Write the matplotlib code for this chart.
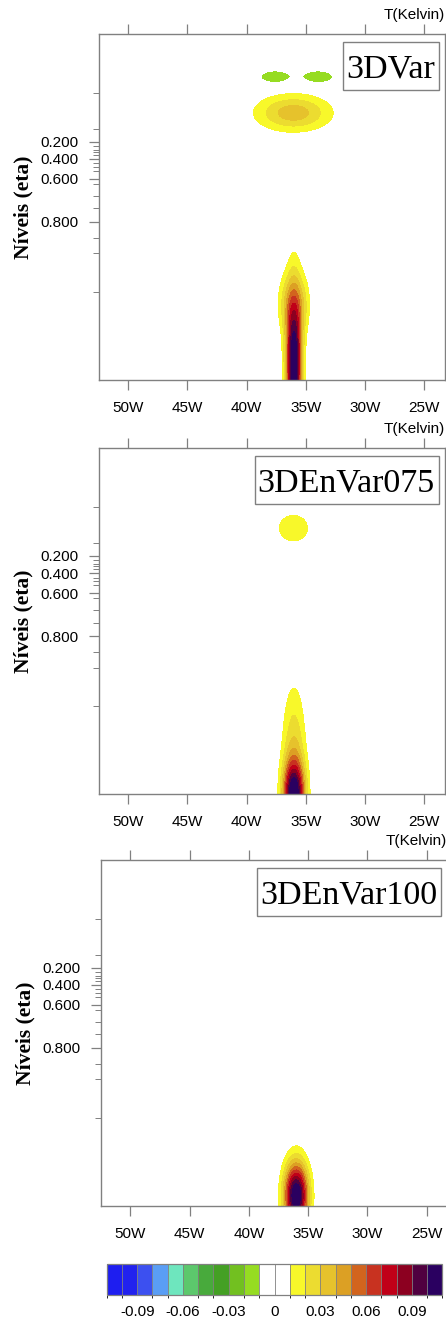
import numpy as np
import matplotlib
matplotlib.use('Agg')
import matplotlib.pyplot as plt
from matplotlib.colors import ListedColormap, BoundaryNorm
from matplotlib.cm import ScalarMappable
from matplotlib.patches import Rectangle
from matplotlib.transforms import IdentityTransform

plt.rcParams['font.family'] = ['Liberation Sans', 'DejaVu Sans']

# colour table, one colour per interval of 0.01
colors = ['#1e1ef0', '#2222ee', '#3c50f0', '#5a9ef5', '#6ee6be', '#5cc86c',
          '#48aa3c', '#44a024', '#72c020', '#96dc22', '#ffffff', '#ffffff',
          '#f8f82a', '#ecdc30', '#e6c22c', '#dca024', '#d2641e', '#c83220',
          '#c00018', '#8c0020', '#500040', '#2a0060']
levels = [-1.0] + list(np.round(np.arange(-0.10, 0.105, 0.01), 2)) + [1.0]
cbar_ticks = [-0.09, -0.06, -0.03, 0.0, 0.03, 0.06, 0.09]
cbar_labels = ['-0.09', '-0.06', '-0.03', '0', '0.03', '0.06', '0.09']

lon_ticks = [-50, -45, -40, -35, -30, -25]
lon_labels = ['50W', '45W', '40W', '35W', '30W', '25W']
eta_pos = [0.689, 0.639, 0.581, 0.457]
eta_labels = ['0.200', '0.400', '0.600', '0.800']
eta_minor = [0.830, 0.725, 0.677, 0.666, 0.659, 0.650, 0.626, 0.616, 0.604,
             0.566, 0.533, 0.496, 0.411, 0.366, 0.255]

# increment features:
# (lon centre, level centre, amplitude, lon spread, level spread)
blobs_3dvar = [(-36.0, 0.05, 0.115, 0.445, 0.142),
               (-36.7, 0.22, 0.020, 0.50, 0.060),
               (-35.3, 0.22, 0.020, 0.50, 0.060),
               (-36.05, 0.772, 0.036, 2.10, 0.035),
               (-37.6, 0.876, -0.0195, 1.04, 0.015),
               (-33.95, 0.876, -0.0195, 1.04, 0.015)]
blobs_075 = [(-36.0, 0.0, 0.100, 0.60, 0.065),
             (-36.0, 0.12, 0.028, 0.66, 0.130),
             (-36.04, 0.769, 0.016, 1.22, 0.038)]
blobs_100 = [(-36.0, 0.03, 0.115, 0.68, 0.065)]

names = ['3DVar', '3DEnVar075', '3DEnVar100']
panels = [blobs_3dvar, blobs_075, blobs_100]

lon = np.linspace(-52.45, -23.25, 600)
lev = np.linspace(0, 1, 500)
X, Y = np.meshgrid(lon, lev)


def build_field(blobs):
    z = np.zeros_like(X)
    for x0, y0, a, sx, sy in blobs:
        z += a * np.exp(-((X - x0) ** 2 / (2 * sx ** 2) + (Y - y0) ** 2 / (2 * sy ** 2)))
    return z


W, H = 446, 1322
fig = plt.figure(figsize=(W / 100, H / 100), dpi=100)

# axes boxes in pixels: left, top
boxes = [(99, 34), (99, 448.3), (101.3, 860)]
side = 346
edge = '#808080'
labels = []

for (left, top), name, blobs in zip(boxes, names, panels):
    ax = fig.add_axes([left / W, (H - top - side) / H, side / W, side / H])
    ax.contourf(lon, lev, build_field(blobs), levels=levels, colors=colors)
    ax.set_xlim(-52.45, -23.25)
    ax.set_ylim(0, 1)
    for sp in ax.spines.values():
        sp.set_color(edge)
        sp.set_linewidth(1.0)
    ax.set_xticks(lon_ticks)
    ax.set_xticklabels(lon_labels)
    ax.set_yticks(eta_pos)
    ax.set_yticklabels(eta_labels)
    ax.set_yticks(eta_minor, minor=True)
    ax.tick_params(axis='x', which='major', top=True, direction='out', length=7,
                   width=0.9, color=edge, labelsize=11, pad=8)
    ax.tick_params(axis='y', which='major', direction='out', length=7,
                   width=0.9, color=edge, labelsize=11, pad=8)
    ax.tick_params(axis='y', which='minor', direction='out', length=4,
                   width=0.7, color=edge)
    ax.set_ylabel('Níveis (eta)', family='Liberation Serif', fontweight='bold',
                  fontsize=15.5)
    ax.yaxis.set_label_coords(-0.19, 0.5)
    ax.text(1.0, 1.056, 'T(Kelvin)', transform=ax.transAxes, ha='right',
            va='center', fontsize=11)
    t = ax.text(0.971, 0.874, name, transform=ax.transAxes, ha='right',
                va='baseline', fontsize=24.5, family='Liberation Serif', zorder=6)
    labels.append((ax, t))

cax = fig.add_axes([106.7 / W, (H - 1295) / H, 335.6 / W, 31 / H])
sm = ScalarMappable(norm=BoundaryNorm(np.round(np.arange(-0.11, 0.115, 0.01), 2), 22),
                    cmap=ListedColormap(colors))
cb = fig.colorbar(sm, cax=cax, orientation='horizontal', drawedges=True,
                  ticks=cbar_ticks)
cb.set_ticklabels(cbar_labels)
cb.outline.set_edgecolor(edge)
cb.outline.set_linewidth(0.9)
cb.dividers.set_color(edge)
cb.dividers.set_linewidth(0.6)
cax.tick_params(length=0, labelsize=11, pad=7)

# boxes around the experiment names, sized from the drawn text
fig.canvas.draw()
renderer = fig.canvas.get_renderer()
for ax, t in labels:
    bb = t.get_window_extent(renderer)
    base = ax.transAxes.transform((0.971, 0.874))[1]
    rect = Rectangle((bb.x0 - 3, base - 12), bb.width + 7, 48,
                     transform=IdentityTransform(), fc='white', ec=edge,
                     lw=1.0, zorder=5, clip_on=False)
    ax.add_patch(rect)

fig.savefig('out.png', dpi=100)
